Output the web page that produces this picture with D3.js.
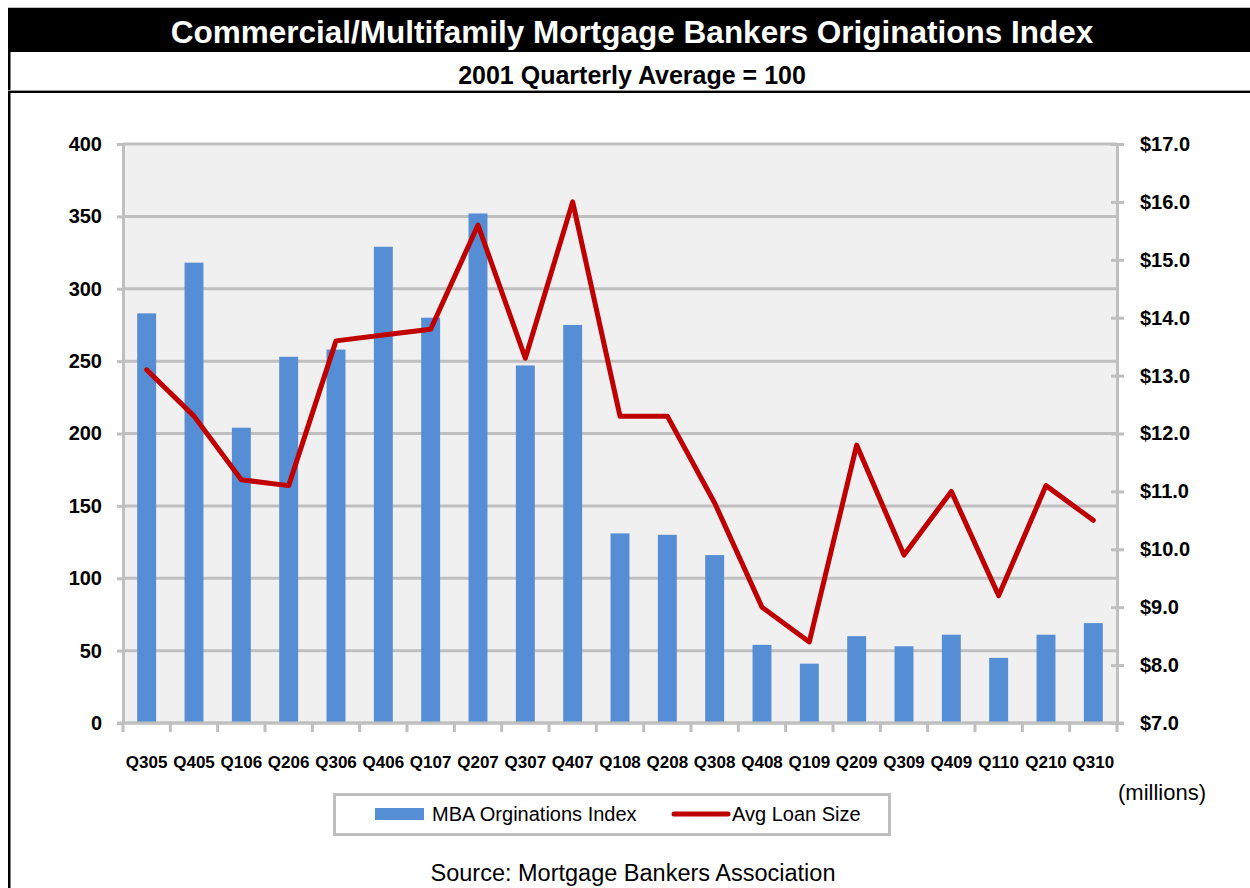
<!DOCTYPE html>
<html>
<head>
<meta charset="utf-8">
<script src="https://cdn.jsdelivr.net/npm/d3@7"></script>
<style>
  body { margin: 0; background: #fff; }
  text { font-family: "Liberation Sans", Arial, Helvetica, sans-serif; }
</style>
</head>
<body>
<svg id="chart" width="1250" height="888"></svg>
<script>
// Quarterly categories
const quarters = ["Q305","Q405","Q106","Q206","Q306","Q406","Q107","Q207","Q307","Q407","Q108",
                  "Q208","Q308","Q408","Q109","Q209","Q309","Q409","Q110","Q210","Q310"];
// MBA originations index (2001 quarterly average = 100)
const originationsIndex = [283, 318, 204, 253, 258, 329, 280, 352, 247, 275, 131,
                           130, 116, 54, 41, 60, 53, 61, 45, 61, 69];
// Average loan size, $ millions
const avgLoanSize = [13.1, 12.3, 11.2, 11.1, 13.6, 13.7, 13.8, 15.6, 13.3, 16.0, 12.3,
                     12.3, 10.8, 9.0, 8.4, 11.8, 9.9, 11.0, 9.2, 11.1, 10.5];
// Axis ticks
const indexTicks = [0, 50, 100, 150, 200, 250, 300, 350, 400];
const loanTicks = [7, 8, 9, 10, 11, 12, 13, 14, 15, 16, 17];

const W = 1250, H = 888;
const plot = { left: 123, right: 1117, top: 144, bottom: 723 };
const barColor = "#558ED5", lineColor = "#C00000", gridColor = "#BFBFBF";

const svg = d3.select("#chart");

// ---- Frame, title bar and subtitle ----
svg.append("line").attr("x1", 8).attr("x2", W).attr("y1", 7.5).attr("y2", 7.5)
  .attr("stroke", "#bdbdbd").attr("stroke-width", 1);
svg.append("rect").attr("x", 8).attr("y", 8).attr("width", W - 8).attr("height", 44).attr("fill", "#000");
svg.append("rect").attr("x", 8).attr("y", 8).attr("width", 2.5).attr("height", H - 8).attr("fill", "#000");
svg.append("line").attr("x1", 8).attr("x2", W).attr("y1", 90.5).attr("y2", 90.5)
  .attr("stroke", "#9a9a9a").attr("stroke-width", 1);
svg.append("rect").attr("x", 8).attr("y", 91).attr("width", W - 8).attr("height", 2).attr("fill", "#000");

svg.append("text").attr("x", 632).attr("y", 43).attr("text-anchor", "middle")
  .attr("fill", "#fff").attr("font-weight", "bold").attr("font-size", 31.5)
  .text("Commercial/Multifamily Mortgage Bankers Originations Index");
svg.append("text").attr("x", 632).attr("y", 84).attr("text-anchor", "middle")
  .attr("fill", "#000").attr("font-weight", "bold").attr("font-size", 25)
  .text("2001 Quarterly Average = 100");

// ---- Scales ----
const x = d3.scaleBand().domain(quarters).range([plot.left, plot.right])
  .paddingInner(0.6).paddingOuter(0.3);
const yL = d3.scaleLinear().domain([0, 400]).range([plot.bottom, plot.top]);
const yR = d3.scaleLinear().domain([7, 17]).range([plot.bottom, plot.top]);

// ---- Plot background ----
svg.append("rect").attr("x", plot.left).attr("y", plot.top)
  .attr("width", plot.right - plot.left).attr("height", plot.bottom - plot.top)
  .attr("fill", "#F0F0F0");

// Horizontal gridlines
svg.append("g").selectAll("line").data(indexTicks).join("line")
  .attr("x1", plot.left).attr("x2", plot.right)
  .attr("y1", d => yL(d)).attr("y2", d => yL(d))
  .attr("stroke", gridColor).attr("stroke-width", 3);

// ---- Bars ----
svg.append("g").selectAll("rect").data(quarters).join("rect")
  .attr("x", d => x(d))
  .attr("width", x.bandwidth())
  .attr("y", (d, i) => yL(originationsIndex[i]))
  .attr("height", (d, i) => yL(0) - yL(originationsIndex[i]))
  .attr("fill", barColor);

// ---- Axes ----
const leftAxis = svg.append("g").attr("transform", `translate(${plot.left},0)`)
  .call(d3.axisLeft(yL).tickValues(indexTicks).tickSize(6).tickPadding(15).tickSizeOuter(0));
leftAxis.select(".domain").attr("stroke", gridColor).attr("stroke-width", 3);
leftAxis.selectAll(".tick line").attr("stroke", gridColor).attr("stroke-width", 3);
leftAxis.selectAll(".tick text").attr("font-size", 20).attr("font-weight", "bold").attr("fill", "#000");

const rightAxis = svg.append("g").attr("transform", `translate(${plot.right},0)`)
  .call(d3.axisRight(yR).tickValues(loanTicks).tickSize(7).tickPadding(16)
        .tickSizeOuter(0).tickFormat(d => "$" + d3.format(".1f")(d)));
rightAxis.select(".domain").attr("stroke", gridColor).attr("stroke-width", 3);
rightAxis.selectAll(".tick line").attr("x1", -6).attr("stroke", gridColor).attr("stroke-width", 3);
rightAxis.selectAll(".tick text").attr("font-size", 20).attr("font-weight", "bold").attr("fill", "#000");

// Category boundary ticks below the baseline
const boundaries = d3.range(quarters.length + 1).map(i => plot.left + i * x.step());
svg.append("g").selectAll("line").data(boundaries).join("line")
  .attr("x1", d => d).attr("x2", d => d)
  .attr("y1", plot.bottom).attr("y2", plot.bottom + 9)
  .attr("stroke", gridColor).attr("stroke-width", 3);
svg.append("line").attr("x1", plot.left - 6).attr("x2", plot.right + 7)
  .attr("y1", plot.bottom).attr("y2", plot.bottom)
  .attr("stroke", gridColor).attr("stroke-width", 3);

const bottomAxis = svg.append("g").attr("transform", `translate(0,${plot.bottom})`)
  .call(d3.axisBottom(x).tickSize(0).tickPadding(33));
bottomAxis.select(".domain").remove();
bottomAxis.selectAll(".tick text").attr("font-size", 17).attr("font-weight", "bold").attr("fill", "#000");

// ---- Average loan size line ----
const line = d3.line()
  .x((d, i) => x(quarters[i]) + x.bandwidth() / 2)
  .y(d => yR(d));
svg.append("path").datum(avgLoanSize)
  .attr("d", line)
  .attr("fill", "none").attr("stroke", lineColor).attr("stroke-width", 5)
  .attr("stroke-linejoin", "round").attr("stroke-linecap", "round");

// Units note for the right axis
svg.append("text").attr("x", 1118).attr("y", 792).attr("dy", "0.35em")
  .attr("font-size", 22).attr("fill", "#000").text("(millions)");

// ---- Legend ----
const legend = svg.append("g");
legend.append("rect").attr("x", 334.5).attr("y", 794.5).attr("width", 555).attr("height", 40)
  .attr("fill", "#fff").attr("stroke", gridColor).attr("stroke-width", 3);
legend.append("rect").attr("x", 375).attr("y", 808).attr("width", 49).attr("height", 12).attr("fill", barColor);
legend.append("text").attr("x", 432).attr("y", 814).attr("dy", "0.35em")
  .attr("font-size", 20).attr("fill", "#000").text("MBA Orginations Index");
legend.append("line").attr("x1", 674).attr("x2", 728).attr("y1", 814).attr("y2", 814)
  .attr("stroke", lineColor).attr("stroke-width", 5).attr("stroke-linecap", "round");
legend.append("text").attr("x", 732).attr("y", 814).attr("dy", "0.35em")
  .attr("font-size", 20).attr("fill", "#000").text("Avg Loan Size");

// ---- Source note ----
svg.append("text").attr("x", 633).attr("y", 881).attr("text-anchor", "middle")
  .attr("font-size", 23.5).attr("fill", "#000").text("Source: Mortgage Bankers Association");
</script>
</body>
</html>
